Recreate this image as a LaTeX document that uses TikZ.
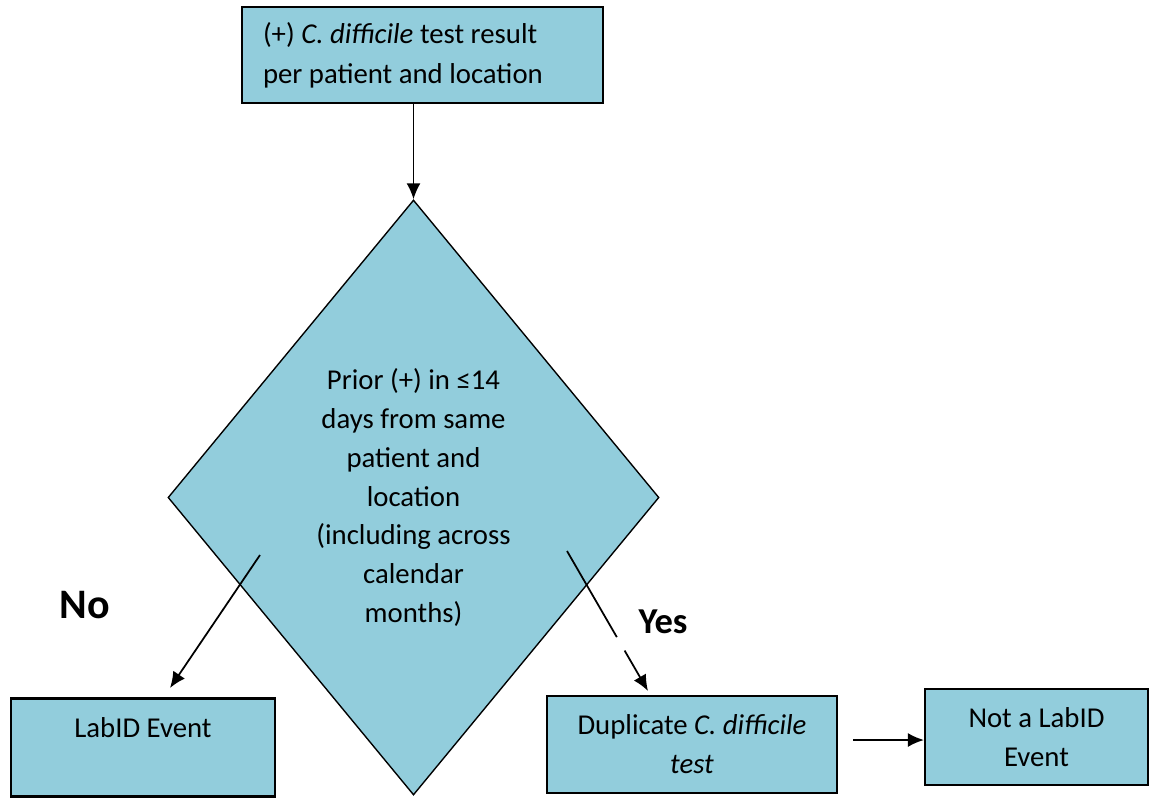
\documentclass[tikz,border=0pt]{standalone}
\usepackage{fontspec}
\setmainfont{Carlito}
\usepackage{tikz}
\usetikzlibrary{shapes.geometric, arrows, arrows.meta, positioning}
\definecolor{cdblue}{RGB}{146,205,220}
\tikzset{
	result/.style={
		rectangle, 
		minimum width=144.4pt, 
		minimum height=38.4pt, 
		text width=127.6pt,
		align=flush left, 
		draw=black, 
		line width=0.9pt,
		fill=cdblue,
		inner sep=0pt,
		font=\fontsize{11.5}{16}\selectfont
	},
	outcome/.style={
		rectangle, 
		text centered, 
		align=center,
		draw=black, 
		line width=0.9pt,
		fill=cdblue,
		inner sep=0pt,
		font=\fontsize{11.5}{15.6}\selectfont
	},
	decision/.style={
		diamond, 
		aspect=0.825, 
		minimum width=196.4pt, 
		minimum height=238pt, 
		text centered, 
		align=center,
		draw=black, 
		line width=0.55pt,
		fill=cdblue,
		font=\fontsize{11.5}{15.5}\selectfont,
		inner sep=0pt
	},
	answer/.style={font=\bfseries\fontsize{#1}{#1}\selectfont},
	arrow/.style={line width=0.7pt,->,>={Latex[length=6.4pt,width=5.6pt]}}
}

\begin{document}
\begin{tikzpicture}[x=0.4pt, y=-0.4pt]
				\useasboundingbox (0,0) rectangle (1157,798);
				\node (test) [result] at (422.5,55) {(+) \textit{C. difficile} test result\\per patient and location};
				\node (prior) [decision] at (413.5,497.5) {Prior (+) in ≤14\\days from same\\patient and\\location\\(including across\\calendar\\months)};
				\node (labid) [outcome, minimum width=105.6pt, minimum height=39.2pt] at (143,747.5) {LabID Event\\\mbox{}};
				\node (dup) [outcome, minimum width=116pt, minimum height=38.8pt] at (692,744.5) {Duplicate \textit{C. difficile}\\\textit{test}};
				\node (notlabid) [outcome, minimum width=89.2pt, minimum height=38.4pt] at (1036.5,737) {Not a LabID\\Event};
				\node (no) [answer=16.8] at (85,605) {No};
				\node (yes) [answer=14.6] at (663,622) {Yes};
				
				\coordinate (noA) at (260,555);
				\coordinate (noB) at (170,688);
				\coordinate (yesA) at (567,551);
				\coordinate (yesB) at (648,691);
				\coordinate (dupR) at (853,740);
				
				\draw [arrow] (test.south -| prior.north) -- (prior.north);
				\draw [arrow] (noA) -- (noB);
				\draw [arrow, dash pattern=on 39.8pt off 6.2pt on 40pt] (yesA) -- (yesB);
				\draw [arrow] (dupR) -- (dupR -| notlabid.west);
			\end{tikzpicture}
\end{document}
